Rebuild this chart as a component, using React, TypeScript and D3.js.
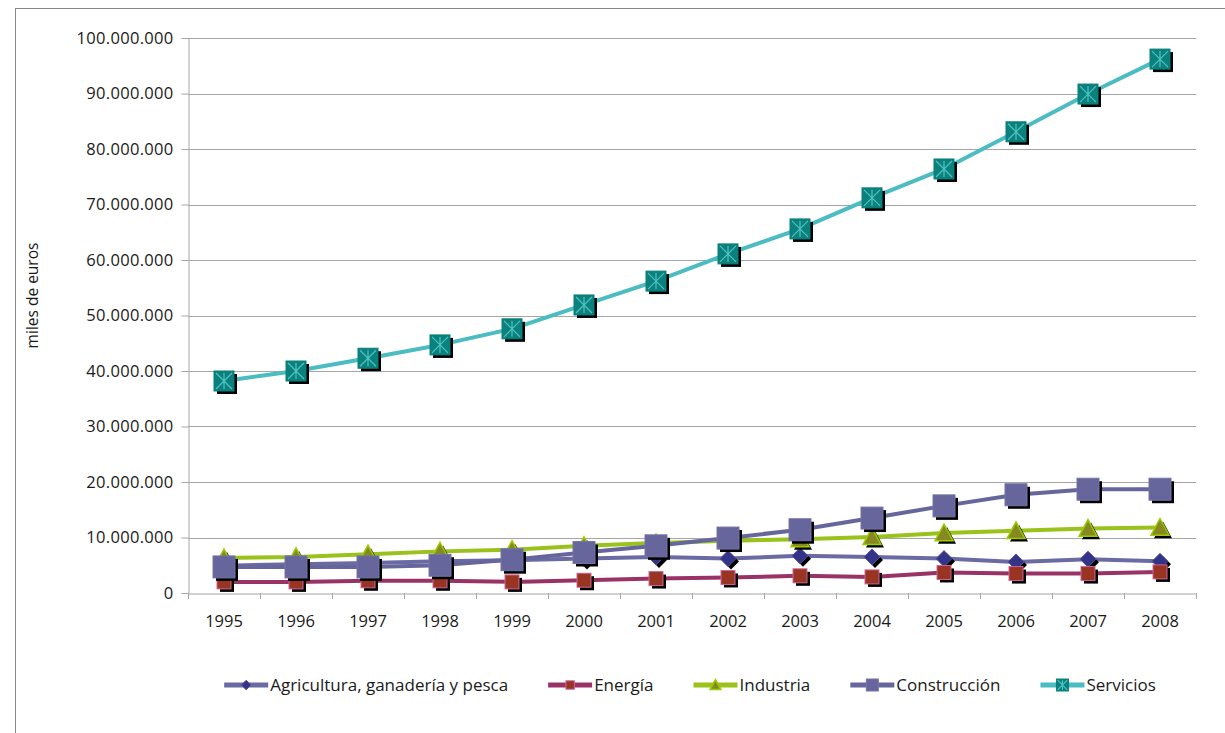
import React, { useEffect, useRef } from "react";
import * as d3 from "d3";

const years = ["1995","1996","1997","1998","1999","2000","2001","2002","2003","2004","2005","2006","2007","2008"];
const agricultura = [4.9, 5.2, 5.4, 5.7, 5.9, 6.2, 6.5, 6.2, 6.7, 6.5, 6.2, 5.6, 6.1, 5.7];
const energia = [2.0, 2.0, 2.2, 2.2, 2.0, 2.3, 2.6, 2.8, 3.1, 2.9, 3.7, 3.5, 3.5, 3.8];
const industria = [6.3, 6.5, 7.0, 7.5, 7.8, 8.5, 9.0, 9.4, 9.7, 10.1, 10.8, 11.2, 11.6, 11.8];
const construccion = [4.7, 4.7, 4.7, 5.0, 6.0, 7.3, 8.5, 9.9, 11.4, 13.5, 15.7, 17.7, 18.7, 18.7];
const servicios = [38.2, 40.0, 42.3, 44.7, 47.6, 51.9, 56.2, 61.1, 65.6, 71.2, 76.4, 83.1, 89.9, 96.2];
const seriesNames = ["Agricultura, ganadería y pesca", "Energía", "Industria", "Construcción", "Servicios"];
const yTicks = [0, 10, 20, 30, 40, 50, 60, 70, 80, 90, 100];
const yLabel = "miles de euros";

type Style = { line: string; fill: string; stroke: string; shape: string; size: number };
const styles: Style[] = [
  { line: "#6b6ba3", fill: "#333388", stroke: "#5555a0", shape: "diamond", size: 8 },
  { line: "#993366", fill: "#993322", stroke: "#cc6699", shape: "square", size: 7 },
  { line: "#99c21a", fill: "#888822", stroke: "#99cc00", shape: "triangle", size: 9 },
  { line: "#66669d", fill: "#66669d", stroke: "#7575a8", shape: "square", size: 11 },
  { line: "#4bbcc2", fill: "#0b807c", stroke: "#0b807c", shape: "xsquare", size: 10 },
];

const W = 1225, H = 733;
const left = 188, right = 1196, top = 38, bottom = 593;
const FONT = "'Open Sans', 'Noto Sans', sans-serif";

function drawMarker(g: any, shape: string, s: number, fill: string, stroke: string, shadow: boolean) {
  if (shape === "diamond") {
    g.append("path").attr("d", `M0,${-s}L${s},0L0,${s}L${-s},0Z`).attr("fill", fill).attr("stroke", shadow ? "none" : stroke).attr("stroke-width", 1);
  } else if (shape === "triangle") {
    g.append("path").attr("d", `M0,${-s}L${s},${s * 0.85}L${-s},${s * 0.85}Z`).attr("fill", fill).attr("stroke", shadow ? "none" : stroke).attr("stroke-width", 1.5);
  } else {
    g.append("rect").attr("x", -s).attr("y", -s).attr("width", 2 * s).attr("height", 2 * s).attr("fill", fill).attr("stroke", shadow ? "none" : stroke).attr("stroke-width", 1);
    if (shape === "xsquare" && !shadow) {
      const c = "#4cc4c4";
      const k = s * 0.8;
      g.append("path").attr("d", `M${-k},${-k}L${k},${k}M${k},${-k}L${-k},${k}M0,${-k}L0,${k}`).attr("stroke", c).attr("stroke-width", 1.2);
    }
  }
}

export default function App() {
  const ref = useRef<SVGSVGElement>(null);
  useEffect(() => {
    const svg = d3.select(ref.current);
    svg.selectAll("*").remove();
    const data = [agricultura, energia, industria, construccion, servicios];

    const x = d3.scaleBand<string>().domain(years).range([left, right]).padding(0);
    const y = d3.scaleLinear().domain([0, 100]).range([bottom, top]);
    const loc = d3.formatLocale({ decimal: ",", thousands: ".", grouping: [3], currency: ["", "€"] });
    const fmt = loc.format(",d");

    // outer frame
    svg.append("rect").attr("x", 15.5).attr("y", 8.5).attr("width", W + 20).attr("height", H + 20)
      .attr("fill", "none").attr("stroke", "#888").attr("stroke-width", 1);

    // gridlines
    svg.append("g").selectAll("line").data(yTicks.filter(t => t > 0)).join("line")
      .attr("x1", left).attr("x2", right)
      .attr("y1", d => Math.round(y(d)) + 0.5).attr("y2", d => Math.round(y(d)) + 0.5)
      .attr("stroke", "#a6a6a6").attr("stroke-width", 1);

    // y axis
    const ya = svg.append("g").attr("transform", `translate(${left + 0.5},0)`)
      .call(d3.axisLeft(y).tickValues(yTicks).tickSize(7).tickPadding(8).tickFormat((d: any) => fmt(d * 1e6)));
    ya.select(".domain").attr("stroke", "#a6a6a6");
    ya.selectAll(".tick line").attr("stroke", "#a6a6a6");
    ya.selectAll(".tick text").attr("font-family", FONT).attr("font-size", 16.5).attr("fill", "#1a1a1a").attr("letter-spacing", 0.3);

    // x axis
    const xa = svg.append("g").attr("transform", `translate(0,${bottom + 0.5})`)
      .call(d3.axisBottom(x).tickSize(0).tickPadding(22));
    xa.select(".domain").attr("stroke", "#a6a6a6");
    xa.selectAll(".tick text").attr("font-family", FONT).attr("font-size", 16.5).attr("fill", "#1a1a1a");
    // boundary ticks
    const bounds = years.map(yv => x(yv) as number).concat([right]);
    svg.append("g").selectAll("line").data(bounds).join("line")
      .attr("x1", d => d + 0.5).attr("x2", d => d + 0.5).attr("y1", bottom).attr("y2", bottom + 6)
      .attr("stroke", "#a6a6a6");

    // y label
    svg.append("text").attr("transform", `translate(38,${(top + bottom) / 2 - 20}) rotate(-90)`)
      .attr("text-anchor", "middle").attr("font-family", FONT).attr("font-size", 15.5).attr("fill", "#1a1a1a").text(yLabel);

    const cx = (d: string) => (x(d) as number) + x.bandwidth() / 2;
    const line = d3.line<number>().x((_, i) => cx(years[i])).y(d => y(d));

    data.forEach((vals, si) => {
      const st = styles[si];
      const g = svg.append("g");
      g.append("path").attr("d", line(vals)).attr("fill", "none").attr("stroke", st.line).attr("stroke-width", 4).attr("stroke-linejoin", "round");
      vals.forEach((v, i) => {
        const m = g.append("g").attr("transform", `translate(${cx(years[i]) + 3},${y(v) + 3})`);
        drawMarker(m, st.shape, st.size, "#000", "#000", true);
      });
      vals.forEach((v, i) => {
        const m = g.append("g").attr("transform", `translate(${cx(years[i])},${y(v)})`);
        drawMarker(m, st.shape, st.size, st.fill, st.stroke, false);
      });
    });

    // legend
    const lg = svg.append("g");
    const items = seriesNames.map((n, i) => {
      const ig = lg.append("g");
      const t = ig.append("text").attr("x", 46).attr("y", 0).attr("dy", "0.35em").attr("font-family", FONT).attr("font-size", 17).attr("fill", "#1a1a1a").text(n);
      const w = (t.node() as SVGTextElement).getComputedTextLength();
      ig.append("line").attr("x1", 0).attr("x2", 44).attr("y1", 0).attr("y2", 0).attr("stroke", styles[i].line).attr("stroke-width", 5);
      const mk = ig.append("g").attr("transform", "translate(22,0)");
      drawMarker(mk, styles[i].shape, Math.min(styles[i].size * 0.6, 6), styles[i].fill, styles[i].stroke, false);
      t.raise();
      return { ig, w: 46 + w };
    });
    const gap = 40;
    const total = d3.sum(items, d => d.w) + gap * (items.length - 1);
    let xp = (left + right) / 2 - 2 - total / 2;
    items.forEach(it => {
      it.ig.attr("transform", `translate(${xp},685)`);
      xp += it.w + gap;
    });
  }, []);
  return <svg ref={ref} width={W} height={H} style={{ display: "block", position: "absolute", left: 0, top: 0 }} />;
}
